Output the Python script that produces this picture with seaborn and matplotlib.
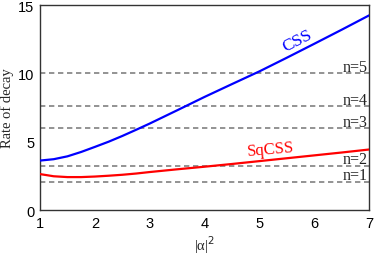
import matplotlib
matplotlib.use("Agg")
import matplotlib.pyplot as plt
import seaborn as sns
import pandas as pd

# Data
alpha2 = [1.0, 1.25, 1.5, 1.75, 2.0, 2.25, 2.5, 2.75, 3.0, 3.5, 4.0, 4.5, 5.0, 5.5, 6.0, 6.5, 7.0]
css = [3.62, 3.72, 3.93, 4.25, 4.62, 5.0, 5.42, 5.87, 6.33, 7.3, 8.28, 9.22, 10.15, 11.15, 12.17, 13.2, 14.25]
sqcss = [2.63, 2.47, 2.41, 2.41, 2.45, 2.51, 2.58, 2.67, 2.78, 2.98, 3.17, 3.37, 3.58, 3.79, 4.0, 4.21, 4.43]
levels = [2.07, 3.25, 6.0, 7.6, 10.0]
level_labels = ["n=1", "n=2", "n=3", "n=4", "n=5"]
xticks = [1, 2, 3, 4, 5, 6, 7]
yticks = [0, 5, 10, 15]

sns.set_theme(style="white")
plt.rcParams["font.family"] = ["Liberation Sans", "DejaVu Sans"]

fig = plt.figure(figsize=(3.74, 2.55), dpi=100)
ax = fig.add_axes([0.107, 0.1725, 0.88, 0.8035])

for lv in levels:
    ax.axhline(lv, color="#808080", lw=1.2, ls=(0, (3.2, 2.2)), zorder=1)

df = pd.DataFrame({"x": alpha2 * 2,
                   "y": css + sqcss,
                   "s": ["CSS"] * len(alpha2) + ["SqCSS"] * len(alpha2)})
sns.lineplot(data=df, x="x", y="y", hue="s", palette={"CSS": "#0000ff", "SqCSS": "#ff0000"},
             lw=1.6, ax=ax, legend=False, zorder=3)

ax.set_xlim(1, 7)
ax.set_ylim(0, 15)
ax.set_xticks(xticks)
ax.set_yticks(yticks)
ax.tick_params(direction="in", length=3, width=0.8, labelsize=10.5, pad=4,
               colors="#222222", labelcolor="black")
for sp in ax.spines.values():
    sp.set_color("#333333")
    sp.set_linewidth(1.0)

serif = ["Liberation Serif", "DejaVu Serif"]
ax.set_xlabel("|α|$^2$", fontsize=10.5, family=serif, labelpad=3)
ax.set_ylabel("Rate of decay", fontsize=10.5, family=serif, labelpad=3)

for lv, lab in zip(levels, level_labels):
    ax.text(6.97, lv - 0.12, lab, ha="right", va="bottom", fontsize=11.5, family=serif, color="#222222")

ax.text(5.69, 12.45, "CSS", color="#0000ff", fontsize=12.5, family=serif,
        rotation=27, ha="center", va="center", rotation_mode="anchor")
ax.text(5.2, 4.5, "SqCSS", color="#ff0000", fontsize=12, family=serif,
        rotation=5, ha="center", va="center", rotation_mode="anchor")

fig.savefig("out.png", dpi=100)
